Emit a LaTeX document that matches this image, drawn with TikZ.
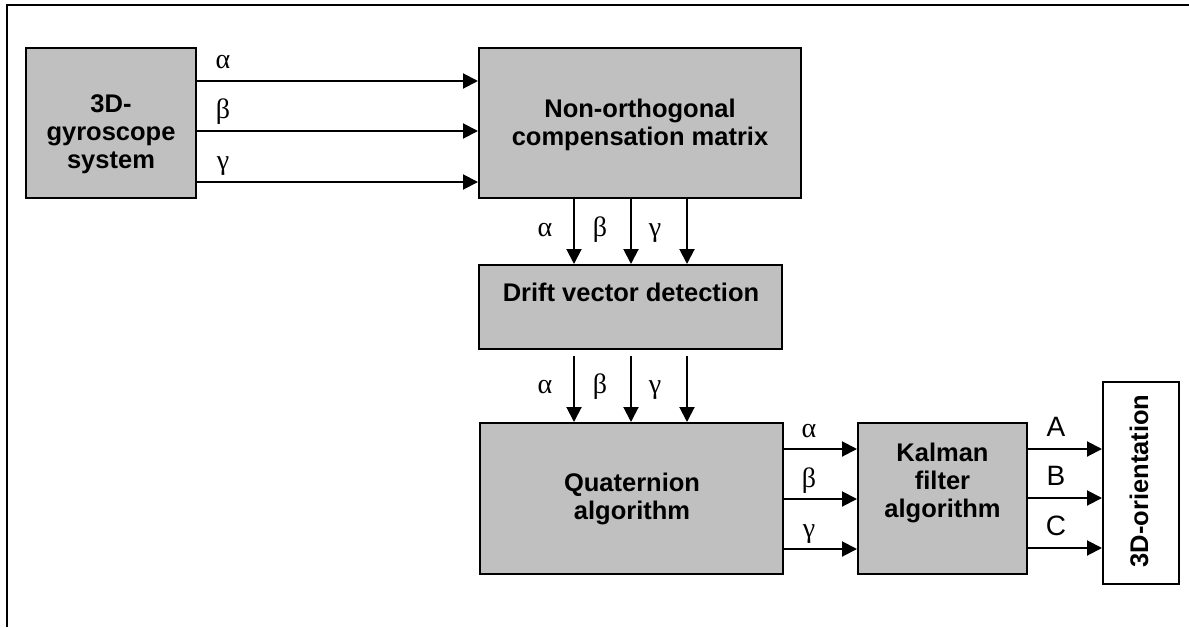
\documentclass[tikz,border=0pt]{standalone}
\usepackage{fontspec}
\setmainfont{Liberation Sans}
\newfontfamily\greekfont{Liberation Serif}
\usetikzlibrary{arrows.meta,calc}
\definecolor{boxgray}{RGB}{192,192,192}
\tikzset{
  blk/.style={draw=black, fill=boxgray, line width=1pt, inner sep=0pt, rectangle},
  outbox/.style={draw=black, fill=white, line width=1pt, inner sep=0pt, rectangle},
  blktext/.style={font=\fontsize{12.75}{14}\selectfont\bfseries, align=center, inner sep=0pt},
  arr/.style={line width=1pt, -{Triangle[length=7.5pt,width=7.5pt]}},
  glabel/.style={font=\fontsize{14}{16}\selectfont\greekfont, anchor=base, inner sep=0pt},
  llabel/.style={font=\fontsize{14}{16}\selectfont, anchor=base, inner sep=0pt},
}
\begin{document}
\begin{tikzpicture}[x=0.5pt,y=-0.5pt]
\useasboundingbox (0,0) rectangle (1189,627);
% frame
\draw[line width=1pt] (7,627) -- (7,4.5) -- (1189,4.5);

% blocks
\node[blk, minimum width=85pt, minimum height=75pt] (gyro) at (111,123) {};
\node[blktext] (gyrotxt) at (111,134) {3D-\\gyroscope\\system};

\node[blk, minimum width=161pt, minimum height=75pt] (nonorth) at (640,123) {};
\node[blktext] (nonorthtxt) at (640,125) {Non-orthogonal\\compensation matrix};

\node[blk, minimum width=151.5pt, minimum height=42pt] (drift) at (630.5,307) {};
\node[blktext] (drifttxt) at (631,292) {Drift vector detection};

\node[blk, minimum width=151.5pt, minimum height=75.5pt] (quat) at (631.5,498.5) {};
\node[blktext] (quattxt) at (632,499) {Quaternion\\algorithm};

\node[blk, minimum width=84.5pt, minimum height=75.5pt] (kalman) at (942.5,498.5) {};
\node[blktext] (kalmantxt) at (942.5,483) {Kalman\\filter\\algorithm};

\node[outbox, minimum width=38pt, minimum height=101pt] (orient) at (1141,483) {};
\node[blktext, rotate=90] (orienttxt) at (1139,481) {3D-orientation};

% gyro -> nonorth
\foreach \yy in {81,131,182}{
  \draw[arr] (gyro.east |- 0,\yy) -- (nonorth.west |- 0,\yy);
}
\node[glabel] (ga) at (223,68) {α};
\node[glabel] (gb) at (223,118) {β};
\node[glabel] (gc) at (223,169) {γ};

% nonorth -> drift
\foreach \xx in {574,631,687}{
  \draw[arr] (nonorth.south -| \xx,0) -- (drift.north -| \xx,0);
}
\node[glabel] (na) at (545,236) {α};
\node[glabel] (nb) at (600,236) {β};
\node[glabel] (nc) at (655,236) {γ};

% drift -> quat
\foreach \xx in {574,631,687}{
  \coordinate (ds\xx) at ($(drift.south -| \xx,0)+(0,6)$);
  \draw[arr] (ds\xx) -- (quat.north -| \xx,0);
}
\node[glabel] (da) at (545,393) {α};
\node[glabel] (db) at (600,393) {β};
\node[glabel] (dc) at (655,393) {γ};

% quat -> kalman
\foreach \yy in {449,499,549}{
  \draw[arr] (quat.east |- 0,\yy) -- (kalman.west |- 0,\yy);
}
\node[glabel] (qa) at (809,437) {α};
\node[glabel] (qb) at (809,487) {β};
\node[glabel] (qc) at (809,537) {γ};

% kalman -> orient
\foreach \yy in {449,498,548}{
  \draw[arr] (kalman.east |- 0,\yy) -- (orient.west |- 0,\yy);
}
\node[llabel] (la) at (1056,436) {A};
\node[llabel] (lb) at (1056,485) {B};
\node[llabel] (lc) at (1056,535) {C};
\end{tikzpicture}
\end{document}
